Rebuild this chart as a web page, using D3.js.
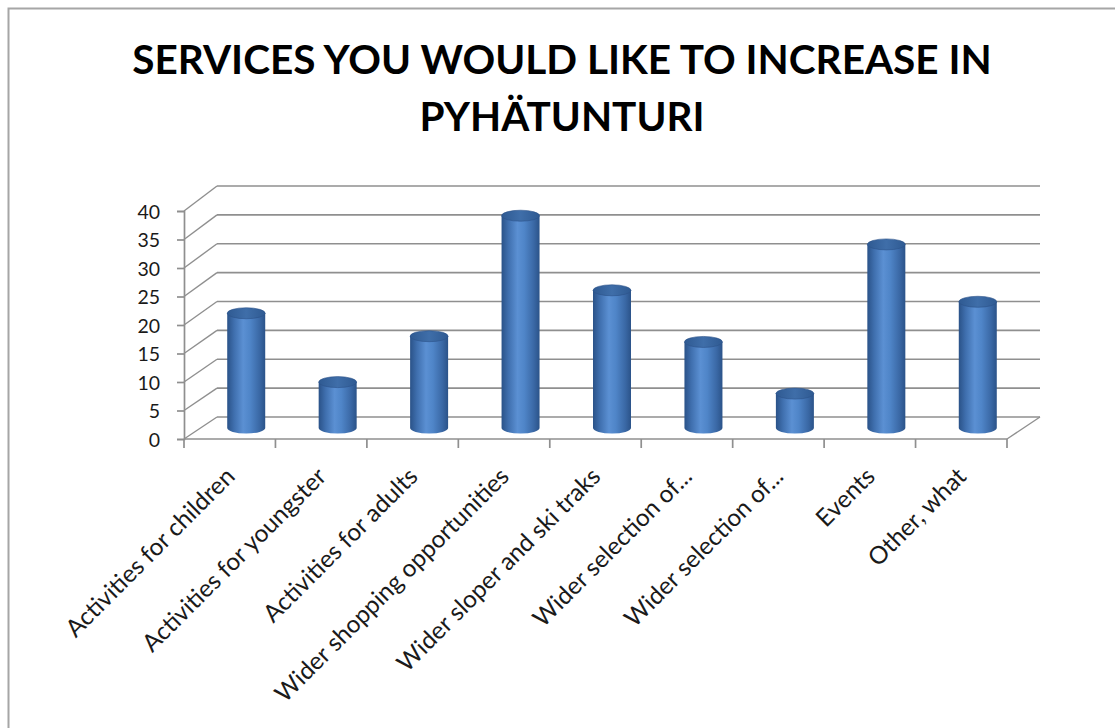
<!DOCTYPE html>
<html>
<head>
<meta charset="utf-8">
<script src="https://cdn.jsdelivr.net/npm/d3@7/dist/d3.min.js"></script>
<style>
  html, body { margin: 0; padding: 0; background: #fff; }
  svg { display: block; }
</style>
</head>
<body>
<svg id="chart" width="1115" height="728"></svg>
<script>
const titleLines = ["SERVICES YOU WOULD LIKE TO INCREASE IN", "PYHÄTUNTURI"];
const categories = [
  "Activities for children",
  "Activities for youngster",
  "Activities for adults",
  "Wider shopping opportunities",
  "Wider sloper and ski traks",
  "Wider selection of...",
  "Wider selection of...",
  "Events",
  "Other, what"
];
const values = [20, 8, 16, 37, 24, 15, 6, 32, 22];
const yTicks = [0, 5, 10, 15, 20, 25, 30, 35, 40];

const svg = d3.select("#chart");
const W = 1115, H = 728;
const FONT = "Lato, 'Open Sans', sans-serif";

// outer frame
svg.append("rect").attr("x", 8.5).attr("y", 8.5).attr("width", W + 20).attr("height", H + 20)
  .attr("fill", "#fff").attr("stroke", "#a6a6a6").attr("stroke-width", 2);

// title
const title = svg.append("text").attr("text-anchor", "middle")
  .attr("font-family", FONT).attr("font-weight", "bold")
  .attr("font-size", 40.5).attr("fill", "#000");
titleLines.forEach((t, i) => {
  title.append("tspan").attr("x", 562).attr("y", 74 + i * 57).text(t);
});

// geometry
const x0 = 184, x1 = 1007;        // front floor edge
const depthDX = 33;               // perspective offset to back wall
const x = d3.scaleBand().domain(d3.range(categories.length)).range([x0, x1]);
const yFront = d3.scaleLinear().domain([0, 40]).range([439, 211]);
const yBack = d3.scaleLinear().domain([0, 40]).range([417, 186]);
const yMid = d3.scaleLinear().domain([0, 40]).range([428, 198.5]);

const gridColor = "#8f8f8f";
const grid = svg.append("g");
yTicks.forEach(v => {
  grid.append("line").attr("x1", x0 + depthDX).attr("x2", x1 + depthDX)
    .attr("y1", yBack(v)).attr("y2", yBack(v))
    .attr("stroke", gridColor).attr("stroke-width", 1.7);
  grid.append("line").attr("x1", x0).attr("y1", yFront(v))
    .attr("x2", x0 + depthDX).attr("y2", yBack(v))
    .attr("stroke", gridColor).attr("stroke-width", 1.4);
});
grid.append("line").attr("x1", x1).attr("y1", yFront(0)).attr("x2", x1 + depthDX).attr("y2", yBack(0))
  .attr("stroke", gridColor).attr("stroke-width", 1.4);

// y axis (front)
const yAxis = d3.axisLeft(yFront).tickValues(yTicks).tickSize(7).tickPadding(17);
const gy = svg.append("g").attr("transform", `translate(${x0},0)`).call(yAxis);
gy.select(".domain").attr("stroke", gridColor).attr("stroke-width", 1.7);
gy.selectAll(".tick line").attr("stroke", gridColor).attr("stroke-width", 1.7);
gy.selectAll(".tick text").attr("font-family", FONT)
  .attr("font-size", 19.5).attr("fill", "#1a1a1a").attr("dy", "0.36em");

// x axis (front)
const gx = svg.append("g").attr("transform", `translate(0,${yFront(0)})`);
gx.append("line").attr("x1", x0).attr("x2", x1).attr("y1", 0).attr("y2", 0)
  .attr("stroke", gridColor).attr("stroke-width", 1.7);
d3.range(categories.length + 1).forEach(i => {
  const xx = i < categories.length ? x(i) : x1;
  gx.append("line").attr("x1", xx).attr("x2", xx).attr("y1", 0).attr("y2", 9)
    .attr("stroke", gridColor).attr("stroke-width", 1.7);
});
gx.selectAll("text.cat").data(categories).join("text").attr("class", "cat")
  .attr("text-anchor", "end")
  .attr("font-family", FONT).attr("font-size", 24.3).attr("fill", "#1a1a1a")
  .attr("transform", (d, i) => `translate(${x(i) + x.bandwidth() / 2 + 6.5},${39}) rotate(-45)`)
  .text(d => d);

// gradient for cylinders
const defs = svg.append("defs");
const grad = defs.append("linearGradient").attr("id", "cyl").attr("x1", "0%").attr("x2", "100%");
[["0%", "#2a5288"], ["18%", "#3f6fae"], ["42%", "#5b90d3"], ["60%", "#4f85c8"], ["85%", "#3a68a5"], ["100%", "#2b5389"]]
  .forEach(([o, c]) => grad.append("stop").attr("offset", o).attr("stop-color", c));
const gradTop = defs.append("linearGradient").attr("id", "cyltop").attr("x1", "0%").attr("x2", "100%");
[["0%", "#2f5a92"], ["50%", "#3f6ea9"], ["100%", "#2f5a92"]]
  .forEach(([o, c]) => gradTop.append("stop").attr("offset", o).attr("stop-color", c));

const rx = 19, ry = 5.5;
const bars = svg.append("g");
values.forEach((v, i) => {
  const cx = x(i) + x.bandwidth() / 2 + depthDX / 2;
  const base = yMid(0), top = yMid(v);
  bars.append("path")
    .attr("d", `M${cx - rx},${top} L${cx - rx},${base} A${rx},${ry} 0 0 0 ${cx + rx},${base} L${cx + rx},${top} Z`)
    .attr("fill", "url(#cyl)");
  bars.append("ellipse").attr("cx", cx).attr("cy", top).attr("rx", rx).attr("ry", ry)
    .attr("fill", "url(#cyltop)").attr("stroke", "#2b5389").attr("stroke-width", 0.6);
});
</script>
</body>
</html>
